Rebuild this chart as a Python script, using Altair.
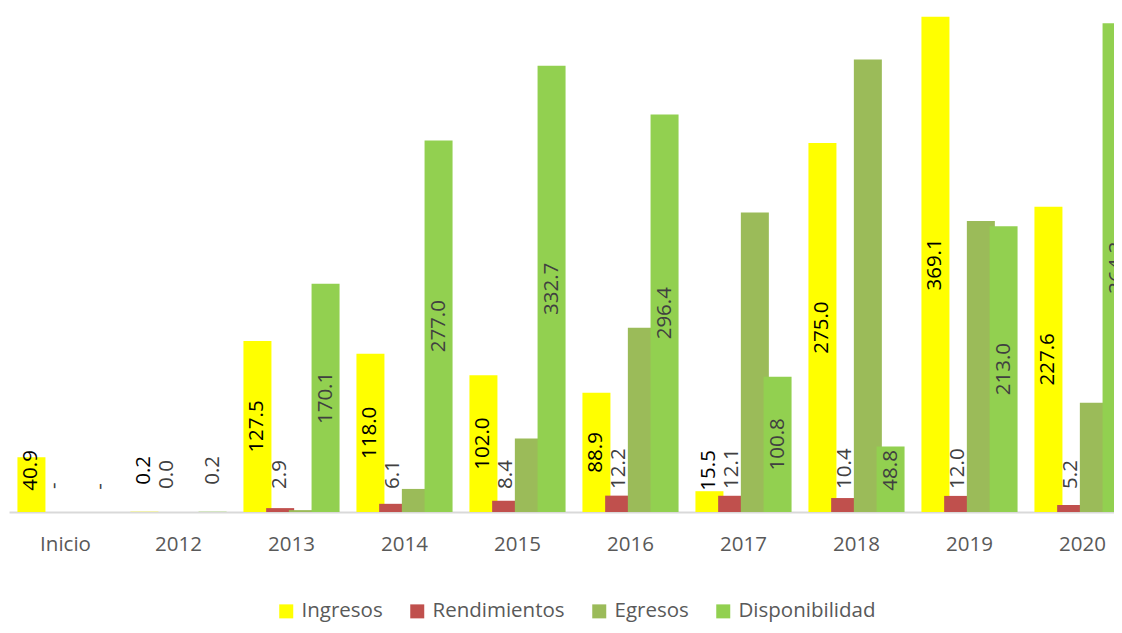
import altair as alt
import pandas as pd

categorias = ["Inicio", "2012", "2013", "2014", "2015", "2016", "2017", "2018", "2019", "2020"]
series = ["Ingresos", "Rendimientos", "Egresos", "Disponibilidad"]
colores = ["#FFFF00", "#C0504D", "#9BBB59", "#92D050"]

ingresos = [40.9, 0.2, 127.5, 118.0, 102.0, 88.9, 15.5, 275.0, 369.1, 227.6]
rendimientos = [None, 0.0, 2.9, 6.1, 8.4, 12.2, 12.1, 10.4, 12.0, 5.2]
egresos = [None, 0.0, 1.4, 17.2, 54.7, 137.4, 223.2, 337.4, 216.9, 81.5]
disponibilidad = [None, 0.2, 170.1, 277.0, 332.7, 296.4, 100.8, 48.8, 213.0, 364.3]

valores = [ingresos, rendimientos, egresos, disponibilidad]
filas = []
for s, vals in zip(series, valores):
    for c, v in zip(categorias, vals):
        filas.append({"categoria": c, "serie": s, "valor": v})
df = pd.DataFrame(filas)

FONT = "Open Sans"
ydom = [0, 375.7]

x_enc = alt.X(
    "categoria:N",
    sort=categorias,
    scale=alt.Scale(range=[1, 1131], paddingInner=0.15, paddingOuter=0.075),
    axis=alt.Axis(title=None, labelAngle=0),
)
xoff_enc = alt.XOffset(
    "serie:N",
    sort=series,
    scale=alt.Scale(domain=series, paddingInner=0, paddingOuter=0.115),
)

base = alt.Chart(df)

bars = base.mark_bar(width=28).encode(
    x=x_enc,
    xOffset=xoff_enc,
    y=alt.Y("valor:Q", scale=alt.Scale(domain=ydom, nice=False), axis=None),
    color=alt.Color(
        "serie:N",
        sort=series,
        scale=alt.Scale(domain=series, range=colores),
        legend=alt.Legend(
            title=None,
            orient="none",
            legendX=268,
            legendY=593,
            direction="horizontal",
            symbolType="square",
            symbolSize=196,
            symbolStrokeWidth=0,
            labelFont=FONT,
            labelFontSize=20.5,
            labelColor="#595959",
            labelOffset=5,
            labelLimit=400,
            columnPadding=24,
            padding=0,
        ),
    ),
)


def etiquetas(serie, color, align, pos_expr):
    return (
        base.transform_filter(alt.datum.serie == serie)
        .transform_calculate(
            pos=pos_expr,
            lbl="isValid(datum.valor) ? format(datum.valor, '.1f') : '-'",
        )
        .mark_text(
            angle=270,
            align=align,
            baseline="middle",
            font=FONT,
            fontSize=20.5,
            color=color,
        )
        .encode(
            x=x_enc,
            xOffset=xoff_enc,
            y=alt.Y("pos:Q", scale=alt.Scale(domain=ydom, nice=False), axis=None),
            text="lbl:N",
        )
    )


lab_ing = etiquetas("Ingresos", "#000000", "center",
                    "isValid(datum.valor) ? max(datum.valor / 2, 31) : 19")
lab_ren = etiquetas("Rendimientos", "#404040", "left", "17.2")
lab_dis = etiquetas("Disponibilidad", "#404040", "center",
                    "isValid(datum.valor) ? max(datum.valor / 2, 31) : 19")

chart = (
    alt.layer(bars, lab_ing, lab_ren, lab_dis)
    .properties(
        width=1106,
        height=504,
        autosize=alt.AutoSizeParams(type="none"),
        padding={"left": 0, "top": 0, "right": 0, "bottom": 113},
        title=alt.TitleParams(
            "(Millones de pesos)", font=FONT, fontSize=28, fontWeight="bold",
            color="#000000", anchor="middle",
        ),
    )
    .configure_view(stroke=None)
    .configure_axis(
        domainColor="#D9D9D9",
        domainWidth=2,
        ticks=False,
        grid=False,
        labelFont=FONT,
        labelFontSize=20.5,
        labelColor="#595959",
        labelPadding=22,
    )
)

chart.save("out.html", embed_options={"renderer": "svg", "actions": False})
